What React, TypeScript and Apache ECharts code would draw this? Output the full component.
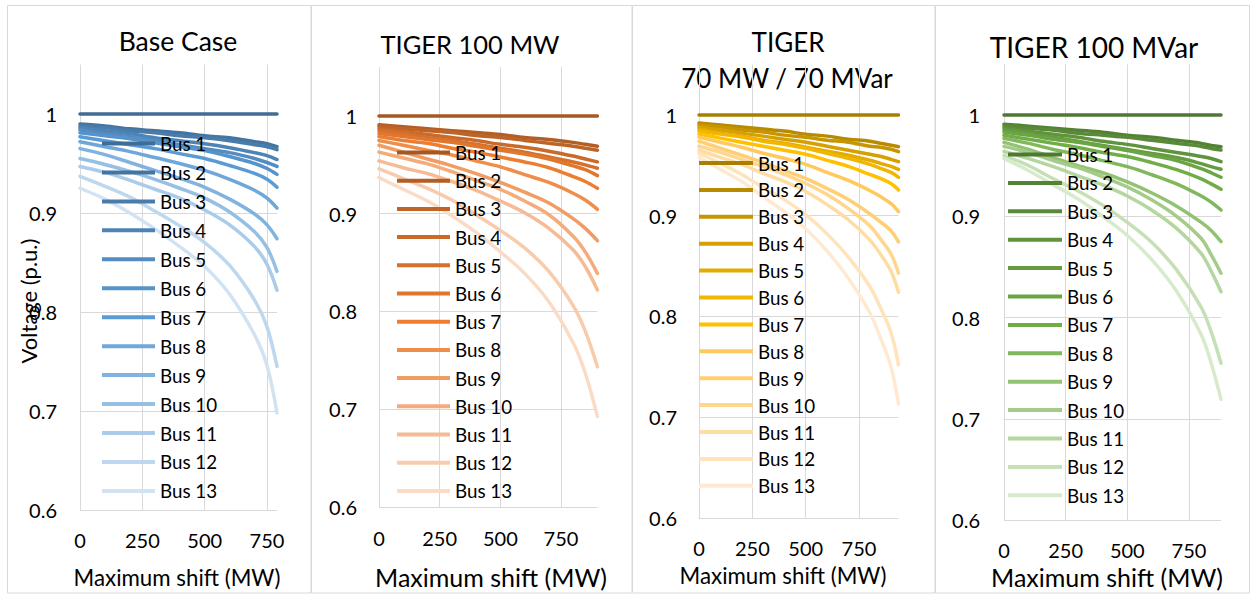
import React, { useEffect, useRef } from 'react';
import * as echarts from 'echarts';

const BUSES = ['Bus 1', 'Bus 2', 'Bus 3', 'Bus 4', 'Bus 5', 'Bus 6', 'Bus 7', 'Bus 8', 'Bus 9', 'Bus 10', 'Bus 11', 'Bus 12', 'Bus 13'];
const X_INTERVAL = 250;
const Y_MIN = 0.6;
const Y_MAX = 1.05;
const Y_INTERVAL = 0.1;

// Base Case
const BASE_X = [0, 100, 200, 300, 400, 500, 600, 700, 750, 790];
const BASE_V = [
  [1, 1, 1, 1, 1, 1, 1, 1, 1, 1],
  [0.990, 0.988, 0.985, 0.983, 0.981, 0.978, 0.976, 0.972, 0.970, 0.967],
  [0.988, 0.986, 0.983, 0.981, 0.978, 0.976, 0.973, 0.969, 0.967, 0.964],
  [0.986, 0.983, 0.980, 0.976, 0.973, 0.970, 0.966, 0.961, 0.958, 0.954],
  [0.984, 0.980, 0.977, 0.973, 0.969, 0.965, 0.961, 0.955, 0.951, 0.947],
  [0.981, 0.978, 0.975, 0.971, 0.967, 0.963, 0.957, 0.950, 0.945, 0.939],
  [0.977, 0.973, 0.969, 0.965, 0.960, 0.955, 0.948, 0.940, 0.934, 0.926],
  [0.972, 0.967, 0.962, 0.956, 0.950, 0.943, 0.934, 0.923, 0.915, 0.905],
  [0.965, 0.959, 0.951, 0.943, 0.935, 0.926, 0.914, 0.899, 0.888, 0.874],
  [0.955, 0.949, 0.942, 0.934, 0.925, 0.915, 0.901, 0.881, 0.865, 0.841],
  [0.947, 0.941, 0.933, 0.924, 0.915, 0.903, 0.888, 0.866, 0.848, 0.822],
  [0.937, 0.927, 0.916, 0.902, 0.887, 0.870, 0.847, 0.812, 0.785, 0.745],
  [0.925, 0.914, 0.900, 0.884, 0.866, 0.846, 0.818, 0.777, 0.746, 0.698],
];

// TIGER 100 MW
const MW_X = [0, 100, 200, 300, 400, 500, 600, 700, 800, 850, 900];
const MW_V = [
  [1, 1, 1, 1, 1, 1, 1, 1, 1, 1, 1],
  [0.991, 0.989, 0.987, 0.985, 0.983, 0.981, 0.978, 0.976, 0.973, 0.971, 0.969],
  [0.989, 0.987, 0.985, 0.983, 0.980, 0.978, 0.975, 0.972, 0.969, 0.967, 0.965],
  [0.987, 0.984, 0.981, 0.978, 0.975, 0.971, 0.968, 0.964, 0.959, 0.956, 0.953],
  [0.985, 0.982, 0.978, 0.975, 0.971, 0.967, 0.963, 0.958, 0.953, 0.950, 0.9465],
  [0.982, 0.979, 0.976, 0.973, 0.969, 0.965, 0.961, 0.956, 0.949, 0.945, 0.939],
  [0.979, 0.975, 0.972, 0.967, 0.963, 0.958, 0.953, 0.947, 0.938, 0.933, 0.926],
  [0.975, 0.970, 0.965, 0.960, 0.954, 0.948, 0.940, 0.932, 0.921, 0.914, 0.9045],
  [0.970, 0.963, 0.956, 0.949, 0.941, 0.932, 0.922, 0.911, 0.895, 0.885, 0.8725],
  [0.963, 0.957, 0.951, 0.943, 0.934, 0.925, 0.913, 0.899, 0.877, 0.861, 0.839],
  [0.954, 0.947, 0.941, 0.933, 0.924, 0.913, 0.901, 0.885, 0.863, 0.846, 0.822],
  [0.946, 0.936, 0.926, 0.914, 0.899, 0.883, 0.865, 0.841, 0.806, 0.780, 0.7435],
  [0.937, 0.925, 0.913, 0.898, 0.881, 0.861, 0.839, 0.810, 0.768, 0.737, 0.6925],
];

// TIGER 70 MW / 70 MVar
const MIX_X = [0, 100, 200, 300, 400, 500, 600, 700, 800, 850, 900, 935];
const MIX_V = [
  [1, 1, 1, 1, 1, 1, 1, 1, 1, 1, 1, 1],
  [0.992, 0.990, 0.988, 0.986, 0.984, 0.981, 0.979, 0.976, 0.974, 0.972, 0.970, 0.9685],
  [0.990, 0.988, 0.985, 0.983, 0.980, 0.978, 0.975, 0.973, 0.969, 0.968, 0.966, 0.9636],
  [0.988, 0.985, 0.982, 0.979, 0.976, 0.973, 0.969, 0.965, 0.961, 0.959, 0.956, 0.9537],
  [0.986, 0.982, 0.979, 0.975, 0.972, 0.968, 0.964, 0.960, 0.955, 0.952, 0.949, 0.946],
  [0.984, 0.981, 0.978, 0.974, 0.971, 0.967, 0.962, 0.957, 0.951, 0.947, 0.943, 0.938],
  [0.981, 0.977, 0.973, 0.969, 0.965, 0.961, 0.955, 0.949, 0.941, 0.937, 0.932, 0.9256],
  [0.978, 0.973, 0.968, 0.962, 0.957, 0.951, 0.943, 0.935, 0.925, 0.919, 0.912, 0.904],
  [0.974, 0.967, 0.960, 0.953, 0.945, 0.937, 0.927, 0.916, 0.902, 0.894, 0.885, 0.874],
  [0.969, 0.963, 0.956, 0.949, 0.941, 0.932, 0.921, 0.907, 0.890, 0.877, 0.862, 0.843],
  [0.965, 0.958, 0.951, 0.942, 0.934, 0.924, 0.911, 0.896, 0.876, 0.862, 0.845, 0.824],
  [0.962, 0.952, 0.941, 0.928, 0.916, 0.901, 0.882, 0.859, 0.830, 0.809, 0.784, 0.752],
  [0.958, 0.946, 0.934, 0.919, 0.904, 0.887, 0.865, 0.838, 0.804, 0.779, 0.750, 0.713],
];

// TIGER 100 MVar
const MVAR_X = [0, 100, 200, 300, 400, 500, 600, 700, 800, 840, 880];
const MVAR_V = [
  [1, 1, 1, 1, 1, 1, 1, 1, 1, 1, 1],
  [0.991, 0.989, 0.987, 0.985, 0.983, 0.980, 0.978, 0.975, 0.972, 0.970, 0.9687],
  [0.989, 0.987, 0.985, 0.982, 0.980, 0.978, 0.975, 0.972, 0.969, 0.967, 0.9654],
  [0.987, 0.984, 0.981, 0.978, 0.974, 0.971, 0.967, 0.963, 0.959, 0.957, 0.9539],
  [0.985, 0.982, 0.978, 0.974, 0.970, 0.966, 0.962, 0.958, 0.952, 0.949, 0.9464],
  [0.983, 0.980, 0.976, 0.973, 0.969, 0.965, 0.960, 0.955, 0.947, 0.943, 0.9385],
  [0.980, 0.976, 0.972, 0.968, 0.963, 0.959, 0.953, 0.946, 0.937, 0.932, 0.9266],
  [0.977, 0.972, 0.966, 0.961, 0.955, 0.949, 0.941, 0.932, 0.920, 0.914, 0.9062],
  [0.973, 0.966, 0.958, 0.950, 0.943, 0.934, 0.923, 0.910, 0.894, 0.886, 0.8749],
  [0.969, 0.963, 0.955, 0.948, 0.939, 0.929, 0.916, 0.900, 0.878, 0.862, 0.8437],
  [0.964, 0.957, 0.949, 0.940, 0.931, 0.920, 0.906, 0.888, 0.863, 0.846, 0.8255],
  [0.960, 0.950, 0.937, 0.925, 0.911, 0.894, 0.874, 0.847, 0.810, 0.786, 0.7548],
  [0.957, 0.945, 0.931, 0.917, 0.900, 0.881, 0.857, 0.826, 0.783, 0.755, 0.7192],
];

const BLUES = ['#406d95', '#4474a0', '#497caa', '#4d84b5', '#528cc0', '#5693ca', '#5b9bd5', '#6fa7da', '#82b3df', '#96bfe4', '#aacbe9', '#bdd7ee', '#d1e3f3'];
const ORANGES = ['#a65822', '#b25e25', '#be6427', '#c96a2a', '#d5712c', '#e1772f', '#ed7d31', '#ef8d4a', '#f19c62', '#f3ac7b', '#f6bb94', '#f8cbad', '#fadbc5'];
const GOLDS = ['#a97f00', '#b88a00', '#c79500', '#d6a100', '#e4ab00', '#f1b600', '#ffc000', '#ffc95e', '#ffcf75', '#ffd68c', '#ffdca3', '#ffe3ba', '#ffead1'];
const GREENS = ['#4e7932', '#548235', '#5a8a39', '#5f933c', '#659c40', '#6aa443', '#70ad47', '#81b75d', '#93c273', '#a4cc89', '#b5d69f', '#c6e0b5', '#d7ebcc'];

const FONT = 'Lato, "Open Sans", sans-serif';

const PANELS = [
  {
    key: 'base', xs: BASE_X, vs: BASE_V, colors: BLUES,
    grid: { left: 80, top: 64.5, width: 197, height: 445.5 },
    legend: { left: 102, top: 134, w: 53, gap: 9.95 },
    box: [7.5, 5.5, 303.5, 587.5],
    titles: [{ text: 'Base Case', x: 178, y: 41, size: 26.5 }],
    xTitle: { x: 177, y: 577, size: 22.3 },
    yLabelMargin: 23, xLabelMargin: 20,
  },
  {
    key: 'mw', xs: MW_X, vs: MW_V, colors: ORANGES,
    grid: { left: 379, top: 67.1, width: 218.4, height: 439.9 },
    legend: { left: 397, top: 143, w: 53, gap: 9.2 },
    box: [311.5, 5.5, 320.5, 587.5],
    titles: [{ text: 'TIGER 100 MW', x: 470, y: 44, size: 25.5 }],
    xTitle: { x: 491, y: 577, size: 25 },
    yLabelMargin: 22, xLabelMargin: 21,
  },
  {
    key: 'mix', xs: MIX_X, vs: MIX_V, colors: GOLDS,
    grid: { left: 699, top: 64.6, width: 199.5, height: 453.4 },
    legend: { left: 699, top: 153.5, w: 54, gap: 7.9 },
    box: [632.5, 5.5, 302.5, 587.5],
    titles: [{ text: 'TIGER', x: 788, y: 42, size: 26 }, { text: '70 MW / 70 MVar', x: 787, y: 78, size: 26 }],
    xTitle: { x: 783, y: 575, size: 22.3 },
    yLabelMargin: 22, xLabelMargin: 20,
  },
  {
    key: 'mvar', xs: MVAR_X, vs: MVAR_V, colors: GREENS,
    grid: { left: 1004, top: 64.4, width: 217, height: 455.6 },
    legend: { left: 1008, top: 145, w: 54, gap: 9.4 },
    box: [935.5, 5.5, 314, 587.5],
    titles: [{ text: 'TIGER 100 MVar', x: 1094, y: 47, size: 28 }],
    xTitle: { x: 1107, y: 577, size: 25 },
    yLabelMargin: 24, xLabelMargin: 20,
  },
];

const GRID_COLOR = '#d9d9d9';

function buildOption() {
  const grid: any[] = [];
  const xAxis: any[] = [];
  const yAxis: any[] = [];
  const series: any[] = [];
  const legend: any[] = [];
  const graphic: any[] = [];

  PANELS.forEach((p, i) => {
    grid.push({ ...p.grid });
    xAxis.push({
      type: 'value', gridIndex: i, min: 0, max: p.xs[p.xs.length - 1], interval: X_INTERVAL,
      axisLine: { show: false }, axisTick: { show: false },
      splitLine: { show: true, showMaxLine: false, lineStyle: { color: GRID_COLOR, width: 1 } },
      axisLabel: { showMaxLabel: false, margin: p.xLabelMargin, color: '#000', fontFamily: FONT, fontSize: 20 },
    });
    yAxis.push({
      type: 'value', gridIndex: i, min: Y_MIN, max: Y_MAX, interval: Y_INTERVAL,
      axisLine: { show: false }, axisTick: { show: false },
      splitLine: { show: true, showMaxLine: false, lineStyle: { color: GRID_COLOR, width: 1 } },
      axisLabel: {
        showMaxLabel: false, margin: p.yLabelMargin, color: '#000', fontFamily: FONT, fontSize: 20,
        formatter: (v: number) => String(Number(v.toFixed(2))),
      },
    });
    const names: string[] = [];
    BUSES.forEach((b, k) => {
      const name = p.key + '|' + b;
      names.push(name);
      series.push({
        type: 'line', name, xAxisIndex: i, yAxisIndex: i,
        data: p.xs.map((x, j) => [x, p.vs[k][j]]),
        smooth: 0.35, showSymbol: false, symbol: 'none',
        lineStyle: { width: 3.5, color: p.colors[k], cap: 'round' },
        itemStyle: { color: p.colors[k] },
        emphasis: { disabled: true }, silent: true, z: 2,
      });
    });
    legend.push({
      show: true, orient: 'vertical', left: p.legend.left, top: p.legend.top, padding: 0,
      itemWidth: p.legend.w, itemHeight: 4, itemGap: p.legend.gap, icon: 'rect',
      data: names, selectedMode: false,
      formatter: (n: string) => n.split('|')[1],
      itemStyle: { borderWidth: 0 },
      textStyle: { fontFamily: FONT, fontSize: 18.8, color: '#000', lineHeight: 18, padding: [0, 0, 0, 0] },
    });
    const [bx, by, bw, bh] = p.box;
    graphic.push({
      type: 'rect', shape: { x: bx, y: by, width: bw, height: bh }, silent: true, z: -10,
      style: { fill: 'none', stroke: GRID_COLOR, lineWidth: 1 },
    });
    p.titles.forEach((t) => {
      graphic.push({
        type: 'text', x: t.x, y: t.y, silent: true,
        style: { text: t.text, fill: '#000', fontFamily: FONT, fontSize: t.size, align: 'center', verticalAlign: 'middle' },
      });
    });
    graphic.push({
      type: 'text', x: p.xTitle.x, y: p.xTitle.y, silent: true,
      style: { text: 'Maximum shift (MW)', fill: '#000', fontFamily: FONT, fontSize: p.xTitle.size, align: 'center', verticalAlign: 'middle' },
    });
  });

  graphic.push({
    type: 'text', x: 28, y: 301, rotation: Math.PI / 2, silent: true, z: 10,
    style: { text: 'Voltage (p.u.)', fill: '#000', fontFamily: FONT, fontSize: 22, align: 'center', verticalAlign: 'middle' },
  });

  return {
    animation: false,
    backgroundColor: '#ffffff',
    grid, xAxis, yAxis, series, legend, graphic,
    tooltip: { show: false },
  };
}

export default function App() {
  const ref = useRef<HTMLDivElement>(null);
  useEffect(() => {
    document.body.style.margin = '0';
    document.body.style.padding = '0';
    if (!ref.current) return;
    const chart = echarts.init(ref.current, undefined, { renderer: 'svg' });
    chart.setOption(buildOption());
    return () => chart.dispose();
  }, []);
  return <div ref={ref} style={{ width: 1253, height: 595 }} />;
}
